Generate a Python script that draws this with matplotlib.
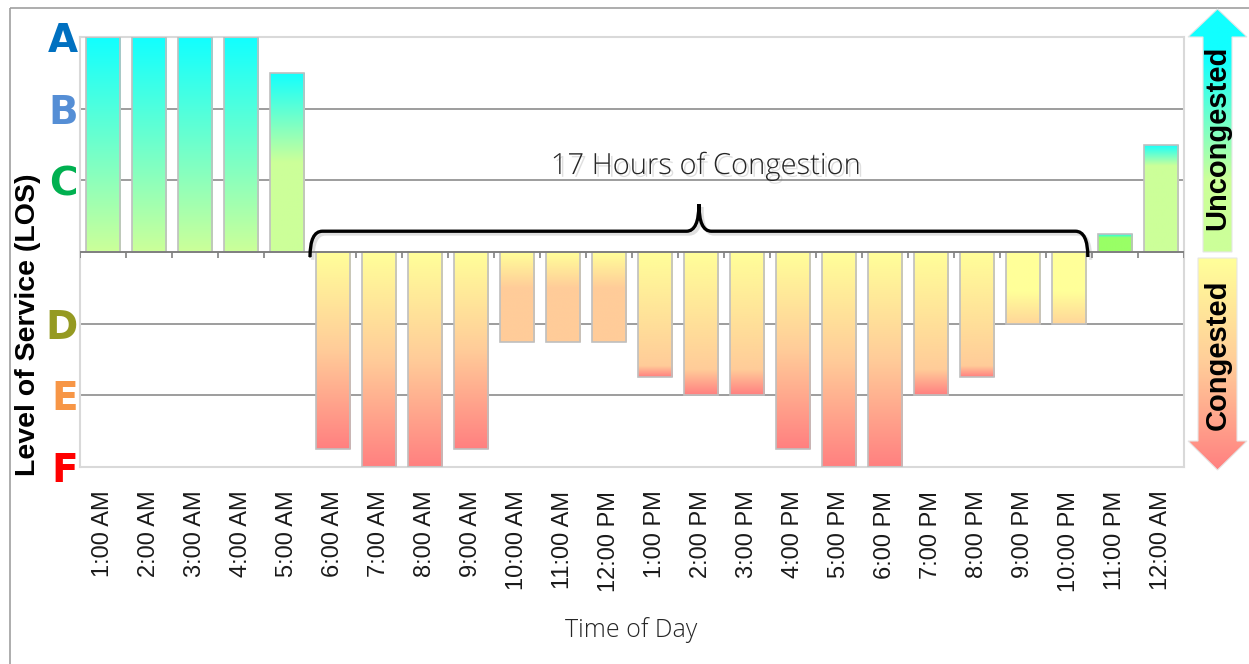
import numpy as np
import matplotlib
matplotlib.use('Agg')
import matplotlib.pyplot as plt
import matplotlib.patheffects as pe
from matplotlib.colors import to_rgb
from matplotlib.patches import Polygon, Rectangle, PathPatch
from matplotlib.path import Path

# hourly level of service: +3 = A ... -3 = F, 0 = C/D boundary
hours = ['1:00 AM', '2:00 AM', '3:00 AM', '4:00 AM', '5:00 AM', '6:00 AM',
         '7:00 AM', '8:00 AM', '9:00 AM', '10:00 AM', '11:00 AM', '12:00 PM',
         '1:00 PM', '2:00 PM', '3:00 PM', '4:00 PM', '5:00 PM', '6:00 PM',
         '7:00 PM', '8:00 PM', '9:00 PM', '10:00 PM', '11:00 PM', '12:00 AM']
los = [3, 3, 3, 3, 2.5, -2.75, -3, -3, -2.75, -1.25, -1.25, -1.25,
       -1.75, -2, -2, -2.75, -3, -3, -2, -1.75, -1, -1, 0.25, 1.5]

grades = ['A', 'B', 'C', 'D', 'E', 'F']
grade_levels = [3, 2, 1, -1, -2, -3]
grade_colors = ['#0070c0', '#558ed5', '#00b050', '#959a22', '#f79646', '#ff0000']

CYAN = '#11ffff'
GREEN = '#ccff99'
GREEN2 = '#99ff66'
YEL = '#ffff99'
PEACH = '#ffcc99'
RED = '#ff8080'

W, H = 1249, 664


def grad(stops, n=256):
    # stops: list of (fraction, colour); fraction 0 = baseline end
    t = np.linspace(0, 1, n)
    fr = [s[0] for s in stops]
    cols = np.array([to_rgb(s[1]) for s in stops])
    out = np.zeros((n, 1, 3))
    for k in range(3):
        out[:, 0, k] = np.interp(t, fr, cols[:, k])
    return out


def stops_for(v):
    if v > 0:
        base = GREEN if v >= 1 else GREEN2
        t0 = min(0.8, 3 - v)
        return [(0, base), (t0, base), (1, CYAN)]
    d = -v
    if d >= 2.5:
        return [(0, YEL), (0.5, PEACH), (1, RED)]
    if d >= 1.5:
        return [(0, YEL), (1 - (d - 1.5) * 0.35 - 0.001, PEACH), (1, RED)]
    if d >= 1.1:
        return [(0, YEL), (0.4, PEACH), (1, PEACH)]
    return [(0, YEL), (0.55, YEL), (1, '#ffd699')]


fig = plt.figure(figsize=(W / 100, H / 100), dpi=100)
ax = fig.add_axes([80 / W, 1 - 467 / H, (1184 - 80) / W, (467 - 37) / H])

x = np.arange(len(hours))
bw = 0.74
bars = ax.bar(x, los, width=bw, facecolor='none', edgecolor='#bfbfbf',
              linewidth=1.2, zorder=3)
for xi, v, b in zip(x, los, bars):
    im = ax.imshow(grad(stops_for(v)), extent=(xi - bw / 2, xi + bw / 2, 0, v),
                   origin='lower', aspect='auto', interpolation='bilinear', zorder=2)
    im.set_clip_path(b)

ax.set_xlim(-0.5, len(hours) - 0.5)
ax.set_ylim(-3, 3)

for g in [-2, -1, 1, 2]:
    ax.axhline(g, color='#8c8c8c', lw=1.2, zorder=1)
ax.axhline(0, color='#808080', lw=1.4, zorder=4)
ax.vlines(np.arange(len(hours) + 1) - 0.5, -0.085, 0, color='#808080', lw=1.2, zorder=4)

for s in ax.spines.values():
    s.set_color('#d9d9d9')
    s.set_linewidth(1.5)

ax.set_yticks([])
ax.set_xticks(x)
ax.set_xticklabels(hours, rotation=90, fontsize=17, family='Liberation Sans',
                   color='#1a1a1a', va='top')
ax.tick_params(axis='x', length=0, pad=17)

# grade letters on the left
for g, lv, c in zip(grades, grade_levels, grade_colors):
    ax.text(-0.545, lv, g, ha='right', va='center_baseline', fontsize=28,
            fontweight='heavy', family='DejaVu Sans', color=c, clip_on=False)

fig.text(28 / W, 1 - 325 / H, 'Level of Service (LOS)', rotation=90, ha='center',
         va='center', fontsize=20.5, fontweight='bold', family='Liberation Sans')
fig.text(631 / W, 1 - 630 / H, 'Time of Day', ha='center', va='center',
         fontsize=18, fontweight='light', family='Open Sans', color='#262626')

# brace over the congested hours
cong = [i for i, v in enumerate(los) if v < 0]
x0, x1 = cong[0] - 0.5, cong[-1] + 0.41
xm = (x0 + x1) / 2
yb, yh, yt = -0.07, 0.29, 0.667
r = 0.27
verts = [(x0, yb), (x0, yh), (x0 + r, yh), (xm - r, yh), (xm, yh), (xm, yt),
         (xm, yh), (xm + r, yh), (x1 - r, yh), (x1, yh), (x1, yb)]
codes = [Path.MOVETO, Path.CURVE3, Path.CURVE3, Path.LINETO, Path.CURVE3, Path.CURVE3,
         Path.CURVE3, Path.CURVE3, Path.LINETO, Path.CURVE3, Path.CURVE3]
brace = PathPatch(Path(verts, codes), fill=False, lw=2.4, edgecolor='black',
                  capstyle='butt', zorder=6, clip_on=False)
brace.set_path_effects([pe.SimpleLineShadow(offset=(2, -2), alpha=0.25, shadow_color='gray'),
                        pe.Normal()])
ax.add_patch(brace)
ax.text(xm + 0.15, 1.2, '%d Hours of Congestion' % len(cong), ha='center', va='center',
        fontsize=21, fontweight='light', family='Open Sans', color='#262626', zorder=6,
        path_effects=[pe.SimplePatchShadow(offset=(2, -2), alpha=0.25, shadow_rgbFace='gray'),
                      pe.Normal()])

# overlay in pixel coordinates for the border and the side arrows
ov = fig.add_axes([0, 0, 1, 1], zorder=-1)
ov.set_xlim(0, W)
ov.set_ylim(H, 0)
ov.axis('off')
ov.add_patch(Rectangle((10, 8), 1300, 700, fill=False, edgecolor='#a0a0a0', lw=1.2))

ov2 = fig.add_axes([0, 0, 1, 1], zorder=5)
ov2.set_xlim(0, W)
ov2.set_ylim(H, 0)
ov2.axis('off')
up = Polygon([(1203, 252), (1203, 37), (1188, 37), (1217.5, 9), (1247, 37),
              (1232, 37), (1232, 252)], closed=True, facecolor='none',
             edgecolor='#e6e6e6', lw=0.8)
down = Polygon([(1198, 258), (1198, 441), (1188, 441), (1217.5, 470), (1247, 441),
                (1237, 441), (1237, 258)], closed=True, facecolor='none',
               edgecolor='#e6e6e6', lw=0.8)
ov2.add_patch(up)
ov2.add_patch(down)
im = ov2.imshow(grad([(0, GREEN), (0.3, GREEN), (0.8, CYAN), (1, CYAN)]),
                extent=(1186, 1249, 252, 9), origin='lower', aspect='auto', zorder=0)
im.set_clip_path(up)
im = ov2.imshow(grad([(0, YEL), (0.5, PEACH), (1, RED)]),
                extent=(1186, 1249, 258, 470), origin='lower', aspect='auto', zorder=0)
im.set_clip_path(down)
ov2.set_xlim(0, W)
ov2.set_ylim(H, 0)
ov2.text(1217.5, 138, 'Uncongested', rotation=90, ha='center', va='center',
         fontsize=21, fontweight='bold', family='Liberation Sans')
ov2.text(1217.5, 355, 'Congested', rotation=90, ha='center', va='center',
         fontsize=21, fontweight='bold', family='Liberation Sans')

fig.savefig('out.png', dpi=100)
